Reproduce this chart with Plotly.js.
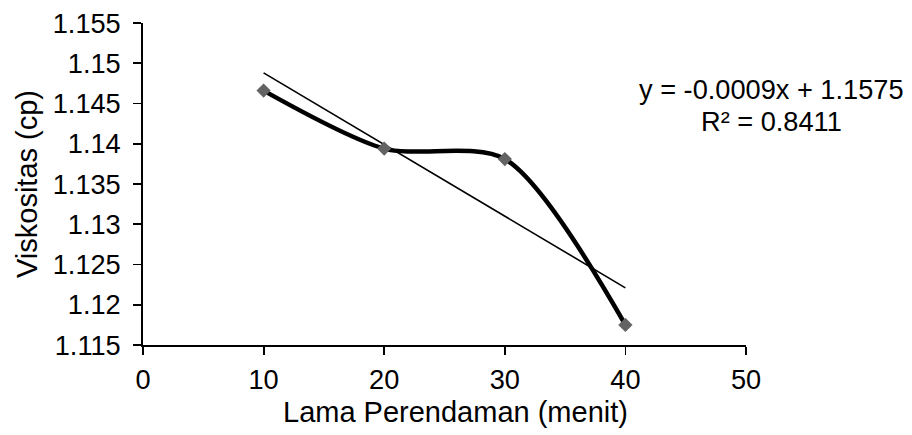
<!DOCTYPE html>
<html>
<head>
<meta charset="utf-8">
<script src="https://cdn.plot.ly/plotly-3.0.1.min.js"></script>
<style>html,body{margin:0;padding:0;background:#fff;}#chart{width:912px;height:435px;}</style>
</head>
<body>
<div id="chart"></div>
<script>
// Data
const lamaPerendaman = [10, 20, 30, 40];
const viskositas = [1.1466, 1.1394, 1.1381, 1.1175];
// Linear trendline endpoints as drawn (x = 10 and x = 40)
const trendX = [10, 40];
const trendY = [1.1488, 1.1221];
const equationText = "y = -0.0009x + 1.1575";
const r2Text = "R² = 0.8411";
const xTitle = "Lama Perendaman (menit)";
const yTitle = "Viskositas (cp)";
const xTicks = [0, 10, 20, 30, 40, 50];
const yTicks = [1.115, 1.12, 1.125, 1.13, 1.135, 1.14, 1.145, 1.15, 1.155];
const yTickLabels = ["1.115", "1.12", "1.125", "1.13", "1.135", "1.14", "1.145", "1.15", "1.155"];

const FONT = "Liberation Sans, Arial, sans-serif";
const FS_TICK = 27.2;
const FS_TITLE = 29;
const FS_EQ = 27.2;

const traces = [
  {
    x: trendX, y: trendY, type: "scatter", mode: "lines",
    line: {color: "#000", width: 1.6},
    hoverinfo: "skip", showlegend: false
  },
  {
    x: lamaPerendaman, y: viskositas, type: "scatter", mode: "lines+markers",
    line: {color: "#000", width: 4.5, shape: "spline", smoothing: 0.8},
    marker: {symbol: "diamond", size: 11, color: "#636363", line: {width: 0}},
    showlegend: false
  }
];

const layout = {
  width: 912, height: 435,
  margin: {l: 143, r: 166, t: 23, b: 90, pad: 0},
  paper_bgcolor: "#fff", plot_bgcolor: "#fff",
  font: {family: FONT, size: FS_TICK, color: "#000"},
  showlegend: false,
  xaxis: {
    range: [0, 50], tickvals: xTicks, ticktext: xTicks.map(String),
    showgrid: false, zeroline: false,
    showline: true, linecolor: "#000", linewidth: 1.8,
    ticks: "outside", ticklen: 8, tickwidth: 1.8, tickcolor: "#000",
    ticklabelstandoff: 2,
    tickfont: {family: FONT, size: FS_TICK, color: "#000"}
  },
  yaxis: {
    range: [1.115, 1.155], tickvals: yTicks, ticktext: yTickLabels,
    showgrid: false, zeroline: false,
    showline: true, linecolor: "#000", linewidth: 1.8,
    ticks: "outside", ticklen: 8, tickwidth: 1.8, tickcolor: "#000",
    ticklabelstandoff: 7,
    tickfont: {family: FONT, size: FS_TICK, color: "#000"},
    title: {text: yTitle, font: {family: FONT, size: FS_TITLE, color: "#000"}, standoff: 6}
  },
  annotations: [
    {xref: "paper", yref: "paper", x: 0.518, y: -0.207, text: xTitle,
     showarrow: false, xanchor: "center", yanchor: "middle",
     font: {family: FONT, size: FS_TITLE, color: "#000"}},
    {xref: "paper", yref: "paper", x: 1.043, y: 0.7935, text: equationText,
     showarrow: false, xanchor: "center", yanchor: "middle",
     font: {family: FONT, size: FS_EQ, color: "#000"}},
    {xref: "paper", yref: "paper", x: 1.043, y: 0.694, text: r2Text,
     showarrow: false, xanchor: "center", yanchor: "middle",
     font: {family: FONT, size: FS_EQ, color: "#000"}}
  ]
};

Plotly.newPlot("chart", traces, layout, {displayModeBar: false, staticPlot: true});
</script>
</body>
</html>
